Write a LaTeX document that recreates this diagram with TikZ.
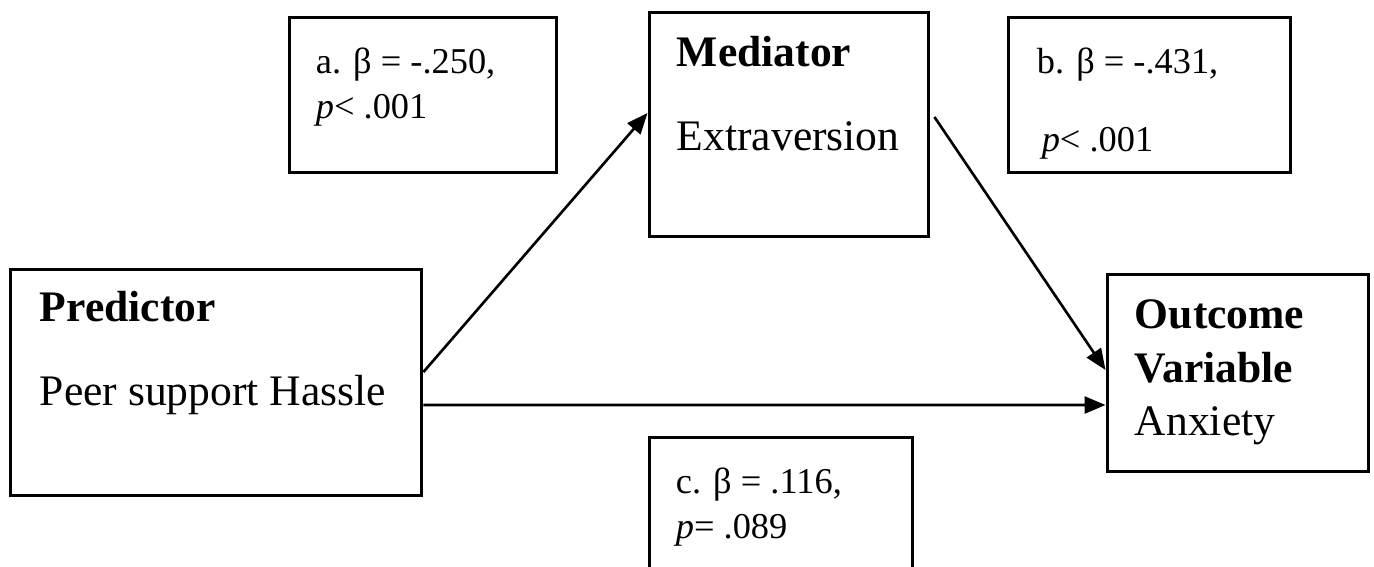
\documentclass[tikz,border=0pt]{standalone}
\usepackage{fontspec}
\setmainfont{Liberation Serif}
\usepackage{tikz}
\usetikzlibrary{arrows.meta,positioning,calc}
\tikzset{
  var_box/.style={draw,line width=1.7pt,inner sep=0pt},
  coef_box/.style={draw,line width=1.7pt,inner sep=0pt},
  var_txt/.style={inner sep=0pt,align=left,anchor=base west,
    font=\fontsize{24.8}{30.4}\selectfont},
  coef_txt/.style={inner sep=0pt,align=left,anchor=base west,
    font=\fontsize{20.7}{25.6}\selectfont},
  arr/.style={-{Triangle[length=0.42cm,width=0.34cm]},line width=1.5pt},
}

\begin{document}
\begin{tikzpicture}[x=0.02cm,y=-0.02cm]
  \clip (0,0) rectangle (1374,566);

  % variable boxes
  \node[var_box,minimum width=8.24cm,minimum height=4.54cm] (pred) at (216,382.5) {};
  \node[var_box,minimum width=5.6cm,minimum height=4.5cm] (med) at (789,124.5) {};
  \node[var_box,minimum width=5.24cm,minimum height=3.96cm] (outc) at (1238,373) {};

  % coefficient boxes
  \node[coef_box,minimum width=5.36cm,minimum height=3.12cm] (coefa) at (423,95) {};
  \node[coef_box,minimum width=5.66cm,minimum height=3.12cm] (coefb) at (1149.5,95) {};
  \node[coef_box,minimum width=5.28cm,minimum height=3.26cm] (coefc) at (781,518.5) {};

  % texts (base = last line)
  \node[var_txt] (predtxt) at ($(pred.north west)+(31,138)$) {\textbf{Predictor}\\[17.4pt]Peer support Hassle};
  \node[var_txt] (medtxt) at ($(med.north west)+(29,140)$) {\textbf{Mediator}\\[17.4pt]Extraversion};
  \node[var_txt] (outctxt) at ($(outc.north west)+(29,163)$) {\textbf{Outcome}\\\textbf{Variable}\\Anxiety};

  \node[coef_txt] (atxt) at ($(coefa.north west)+(28,103)$) {a. β = -.250,\\\textit{p}< .001};
  \node[coef_txt] (btxt) at ($(coefb.north west)+(30,136)$) {b. β = -.431,\\[18.8pt]\hspace{2.8pt}\textit{p}< .001};
  \node[coef_txt] (ctxt) at ($(coefc.north west)+(28,103)$) {c. β = .116,\\\textit{p}= .089};

  \draw[arr] ($(pred.east)+(0,-10.5)$) -- ($(med.west)+(0,-11.5)$);
  \draw[arr] ($(med.east)+(4,-7.5)$) -- ($(outc.west)+(0,-3)$);
  \draw[arr] ($(pred.east)+(0,22.5)$) -- ($(outc.west)+(0,32)$);
\end{tikzpicture}
\end{document}
